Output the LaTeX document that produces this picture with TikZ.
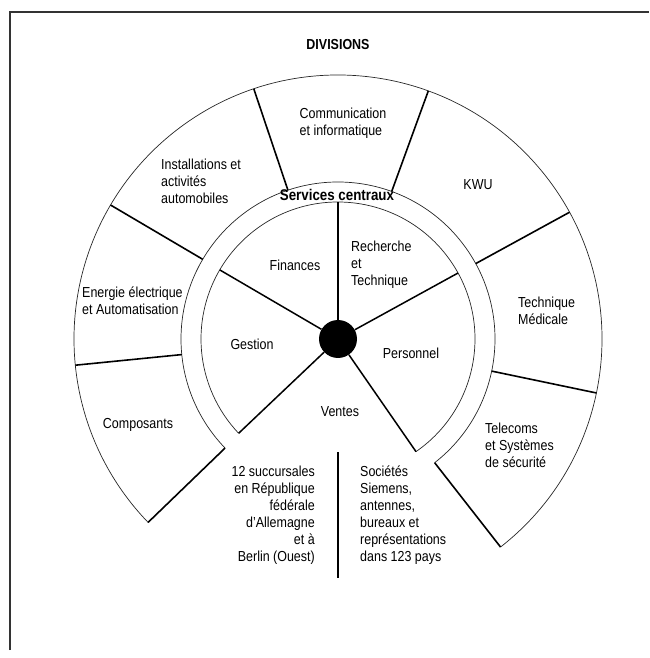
\documentclass[tikz,border=0pt]{standalone}
\usepackage{fontspec}
\setmainfont{Liberation Sans}[FakeStretch=0.86]
\usetikzlibrary{positioning}

\begin{document}
\begin{tikzpicture}[
    x=1pt, y=1pt,
    ring/.style={draw=black!85, line width=0.7pt},
    divider/.style={draw=black, line width=1.6pt},
    spoke/.style={draw=black, line width=1.5pt},
    frame/.style={draw=black!80, line width=1.6pt},
    lbl/.style={font=\fontsize{14.5}{17}\selectfont, inner sep=0pt, align=left},
    title/.style={font=\fontsize{14.5}{17}\selectfont\bfseries, inner sep=0pt}
]
\useasboundingbox (-338,-319) rectangle (311,339);

% Page frame
\draw[frame] (-328,-311) -- (-328,327) -- (311,327);

% Divisions ring
\draw[ring] (-52:264) arc[start angle=-52, end angle=224, radius=264];
\draw[ring] (-52:157) arc[start angle=-52, end angle=224, radius=157];
\foreach \a in {-52,-11.8,28.7,70,108.6,149.5,185.7,224}
    \draw[divider] (\a:157) -- (\a:264);

% Central services
\draw[ring] (-55.3:137) arc[start angle=-55.3, end angle=223.5, radius=137];
\node[circle, fill=black, minimum size=38pt, inner sep=0pt] (hub) at (0,0) {};
\foreach \a in {-55.3,28.8,90,149.7,223.5}
    \draw[spoke] (hub) -- (\a:137);

% Sales split below
\coordinate (splittop) at (0,-113);
\coordinate (splitbot) at (0,-239);
\draw[spoke, line width=1.1pt] (splittop) -- (splitbot);

% Division labels
\node[title] (divisions) at (0,294) {DIVISIONS};
\node[lbl] (comm) at (5,216) {Communication\\et informatique};
\node[lbl, anchor=west] (auto) at (-177,158) {Installations et\\activités\\automobiles};
\node[lbl] (kwu) at (140,154) {KWU};
\node[lbl, anchor=west] (energie) at (-256,38) {Energie électrique\\et Automatisation};
\node[lbl, anchor=west] (medical) at (180,28) {Technique\\Médicale};
\node[lbl] (composants) at (-200,-86) {Composants};
\node[lbl, anchor=west] (telecoms) at (147,-106) {Telecoms\\et Systèmes\\de sécurité};

% Central service labels
\node[title, font=\fontsize{15.5}{17}\selectfont\bfseries] (services) at (-1,144) {Services centraux};
\node[lbl] (finances) at (-43,74) {Finances};
\node[lbl, anchor=west] (recherche) at (13,74) {Recherche\\et\\Technique};
\node[lbl] (gestion) at (-86,-5) {Gestion};
\node[lbl] (personnel) at (73,-14) {Personnel};
\node[lbl] (ventes) at (2,-73) {Ventes};

% Sales network
\node[lbl, align=right, anchor=east] (succursales) at (-23,-176.5)
    {12 succursales\\en République\\fédérale\\d'Allemagne\\et à\\Berlin (Ouest)};
\node[lbl, anchor=west] (societes) at (22,-176.5)
    {Sociétés\\Siemens,\\antennes,\\bureaux et\\représentations\\dans 123 pays};

\end{tikzpicture}
\end{document}
